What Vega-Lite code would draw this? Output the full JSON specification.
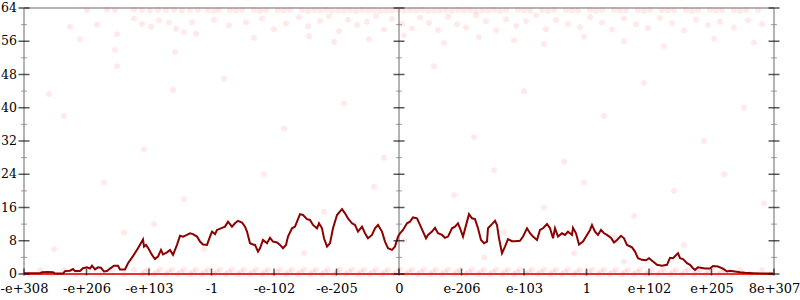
{
  "$schema": "https://vega.github.io/schema/vega-lite/v6.json",
  "width": 750,
  "height": 266,
  "autosize": "none",
  "padding": {"left": 24, "top": 8, "right": 26, "bottom": 26},
  "background": "white",
  "config": {
    "view": {"stroke": null},
    "font": "DejaVu Serif",
    "axis": {"ticks": false, "domain": false, "grid": false, "title": null, "labelFont": "DejaVu Serif", "labelColor": "#000", "labelOverlap": false, "labelFlush": false},
    "axisY": {"labels": false},
    "axisX": {"labelOverlap": false, "labelFontSize": 13, "labelPadding": 8}
  },
  "datasets": {
    "line": [
      {"x":0,"v":0.2},{"x":6,"v":0.2},{"x":16,"v":0.2},{"x":18,"v":0.4},{"x":24,"v":0.5},{"x":29,"v":0.4},{"x":31,"v":0.1},{"x":36,"v":0.1},{"x":39,"v":0.1},{"x":41,"v":0.7},{"x":46,"v":0.8},{"x":49,"v":1.2},{"x":51,"v":0.7},{"x":56,"v":0.7},{"x":59,"v":1.4},{"x":63,"v":1.6},{"x":66,"v":1.3},{"x":68,"v":2.0},{"x":71,"v":1.1},{"x":74,"v":1.6},{"x":77,"v":1.5},{"x":80,"v":0.6},{"x":83,"v":0.7},{"x":86,"v":1.3},{"x":90,"v":2.0},{"x":94,"v":2.0},{"x":96,"v":1.1},{"x":101,"v":1.1},{"x":104,"v":2.6},{"x":109,"v":4.3},{"x":114,"v":6.2},{"x":118,"v":7.9},{"x":119,"v":8.3},{"x":120,"v":6.6},{"x":122,"v":7.0},{"x":124,"v":6.3},{"x":128,"v":4.6},{"x":131,"v":3.6},{"x":134,"v":4.2},{"x":137,"v":5.8},{"x":139,"v":4.7},{"x":143,"v":5.2},{"x":146,"v":5.8},{"x":149,"v":4.6},{"x":153,"v":7.0},{"x":156,"v":9.2},{"x":159,"v":9.0},{"x":163,"v":9.4},{"x":166,"v":9.8},{"x":169,"v":9.6},{"x":173,"v":9.0},{"x":176,"v":7.8},{"x":179,"v":7.1},{"x":183,"v":7.0},{"x":186,"v":9.0},{"x":188,"v":10.2},{"x":191,"v":9.6},{"x":193,"v":10.6},{"x":198,"v":11.1},{"x":201,"v":11.4},{"x":204,"v":12.6},{"x":208,"v":11.4},{"x":211,"v":12.2},{"x":214,"v":12.8},{"x":218,"v":12.4},{"x":221,"v":11.4},{"x":223,"v":10.2},{"x":226,"v":7.4},{"x":229,"v":7.1},{"x":231,"v":7.0},{"x":234,"v":5.4},{"x":236,"v":6.2},{"x":239,"v":8.2},{"x":243,"v":7.4},{"x":246,"v":8.7},{"x":249,"v":7.8},{"x":253,"v":7.6},{"x":256,"v":7.0},{"x":259,"v":6.2},{"x":262,"v":7.0},{"x":264,"v":9.0},{"x":268,"v":11.0},{"x":271,"v":11.4},{"x":273,"v":12.6},{"x":276,"v":14.4},{"x":279,"v":14.2},{"x":283,"v":13.2},{"x":286,"v":13.0},{"x":289,"v":11.8},{"x":293,"v":11.0},{"x":295,"v":12.2},{"x":298,"v":11.0},{"x":300,"v":8.6},{"x":303,"v":6.6},{"x":306,"v":7.4},{"x":309,"v":11.0},{"x":313,"v":14.2},{"x":318,"v":15.6},{"x":321,"v":14.6},{"x":324,"v":13.4},{"x":328,"v":12.2},{"x":331,"v":11.8},{"x":334,"v":10.2},{"x":338,"v":11.4},{"x":341,"v":9.8},{"x":344,"v":8.6},{"x":348,"v":9.4},{"x":351,"v":11.0},{"x":354,"v":11.8},{"x":358,"v":10.2},{"x":361,"v":7.8},{"x":364,"v":6.2},{"x":368,"v":5.8},{"x":371,"v":6.6},{"x":374,"v":9.0},{"x":376,"v":9.8},{"x":379,"v":10.6},{"x":383,"v":12.2},{"x":386,"v":12.6},{"x":389,"v":13.6},{"x":393,"v":13.4},{"x":396,"v":11.8},{"x":399,"v":10.2},{"x":402,"v":8.6},{"x":404,"v":9.4},{"x":408,"v":10.2},{"x":411,"v":11.1},{"x":414,"v":9.8},{"x":418,"v":9.4},{"x":421,"v":8.7},{"x":424,"v":9.0},{"x":428,"v":11.0},{"x":431,"v":11.4},{"x":434,"v":12.2},{"x":436,"v":11.0},{"x":439,"v":9.0},{"x":443,"v":12.6},{"x":445,"v":14.4},{"x":448,"v":13.4},{"x":451,"v":13.2},{"x":454,"v":11.0},{"x":457,"v":8.2},{"x":460,"v":7.4},{"x":463,"v":7.8},{"x":464,"v":11.0},{"x":468,"v":12.0},{"x":471,"v":12.8},{"x":473,"v":11.8},{"x":475,"v":8.6},{"x":478,"v":5.0},{"x":481,"v":6.6},{"x":484,"v":8.4},{"x":488,"v":7.9},{"x":491,"v":7.9},{"x":496,"v":8.0},{"x":499,"v":9.0},{"x":503,"v":11.0},{"x":506,"v":9.8},{"x":509,"v":9.0},{"x":513,"v":8.2},{"x":516,"v":10.6},{"x":519,"v":11.0},{"x":523,"v":12.0},{"x":526,"v":11.0},{"x":529,"v":8.6},{"x":531,"v":11.0},{"x":534,"v":9.0},{"x":538,"v":9.8},{"x":541,"v":9.4},{"x":544,"v":10.2},{"x":548,"v":9.4},{"x":549,"v":11.1},{"x":552,"v":9.8},{"x":555,"v":7.1},{"x":559,"v":7.8},{"x":563,"v":9.4},{"x":566,"v":10.6},{"x":568,"v":11.8},{"x":571,"v":10.2},{"x":574,"v":9.4},{"x":577,"v":10.6},{"x":580,"v":9.8},{"x":583,"v":9.4},{"x":587,"v":8.7},{"x":590,"v":7.6},{"x":593,"v":8.2},{"x":597,"v":9.2},{"x":600,"v":8.6},{"x":603,"v":7.0},{"x":608,"v":6.4},{"x":611,"v":5.4},{"x":614,"v":3.8},{"x":618,"v":3.4},{"x":622,"v":3.3},{"x":625,"v":3.8},{"x":629,"v":3.0},{"x":633,"v":2.2},{"x":638,"v":2.0},{"x":643,"v":2.2},{"x":646,"v":3.9},{"x":649,"v":3.8},{"x":654,"v":5.0},{"x":656,"v":3.8},{"x":659,"v":3.6},{"x":663,"v":2.6},{"x":666,"v":2.2},{"x":669,"v":1.4},{"x":671,"v":1.0},{"x":674,"v":1.6},{"x":681,"v":1.3},{"x":686,"v":1.3},{"x":689,"v":1.9},{"x":694,"v":1.8},{"x":699,"v":1.3},{"x":703,"v":0.6},{"x":706,"v":0.8},{"x":711,"v":0.6},{"x":716,"v":0.4},{"x":721,"v":0.3},{"x":729,"v":0.2},{"x":738,"v":0.1},{"x":749,"v":0.1}
    ],
    "pts": [
      {"x":63,"v":63.5},{"x":73,"v":60},{"x":83,"v":63.6},{"x":91,"v":63.5},{"x":93,"v":57.7},{"x":91,"v":53.9},{"x":93,"v":50},{"x":25,"v":43.3},{"x":149,"v":44.3},{"x":151,"v":53.4},{"x":56,"v":56.5},{"x":46,"v":59.5},
      {"x":110,"v":63.6},{"x":118,"v":63.5},{"x":126,"v":63.4},{"x":134,"v":63.6},{"x":142,"v":63.5},{"x":150,"v":63.6},{"x":158,"v":63.4},{"x":166,"v":63.5},{"x":174,"v":63.6},
      {"x":110,"v":61.5},{"x":118,"v":60.2},{"x":127,"v":59.5},{"x":135,"v":61},{"x":145,"v":60.5},{"x":152,"v":59},{"x":160,"v":58.2},{"x":168,"v":60.6},{"x":172,"v":57.8},
      {"x":184,"v":63.5},{"x":195,"v":63.6},{"x":206,"v":63.4},{"x":218,"v":63.5},{"x":230,"v":63.6},{"x":242,"v":63.5},{"x":254,"v":63.4},{"x":266,"v":63.6},{"x":278,"v":63.5},{"x":290,"v":63.5},{"x":302,"v":63.6},{"x":314,"v":63.4},{"x":326,"v":63.5},{"x":338,"v":63.6},{"x":350,"v":63.5},{"x":362,"v":63.4},{"x":374,"v":63.6},{"x":386,"v":63.5},{"x":398,"v":63.6},{"x":410,"v":63.4},{"x":422,"v":63.5},{"x":434,"v":63.6},{"x":446,"v":63.5},{"x":458,"v":63.4},{"x":470,"v":63.6},{"x":482,"v":63.5},{"x":494,"v":63.6},{"x":506,"v":63.4},{"x":518,"v":63.5},{"x":530,"v":63.6},{"x":542,"v":63.5},{"x":554,"v":63.4},{"x":566,"v":63.6},{"x":578,"v":63.5},{"x":590,"v":63.6},{"x":602,"v":63.4},{"x":614,"v":63.5},{"x":626,"v":63.6},{"x":638,"v":63.5},{"x":650,"v":63.4},{"x":662,"v":63.6},{"x":674,"v":63.5},{"x":686,"v":63.6},{"x":698,"v":63.4},{"x":710,"v":63.5},{"x":722,"v":63.6},{"x":734,"v":63.5},
      {"x":190,"v":63.3},{"x":212,"v":63.4},{"x":236,"v":63.3},{"x":260,"v":63.4},{"x":284,"v":63.3},{"x":296,"v":63.4},{"x":308,"v":63.3},{"x":320,"v":63.4},{"x":332,"v":63.3},{"x":344,"v":63.4},{"x":356,"v":63.3},{"x":368,"v":63.4},{"x":380,"v":63.3},{"x":392,"v":63.4},{"x":404,"v":63.3},{"x":416,"v":63.4},{"x":428,"v":63.3},{"x":440,"v":63.4},{"x":452,"v":63.3},{"x":464,"v":63.4},{"x":476,"v":63.3},{"x":500,"v":63.4},{"x":524,"v":63.3},{"x":548,"v":63.4},{"x":572,"v":63.3},{"x":596,"v":63.4},{"x":620,"v":63.3},{"x":644,"v":63.4},{"x":668,"v":63.3},{"x":692,"v":63.4},{"x":716,"v":63.3},
      {"x":190,"v":61.2},{"x":205,"v":59.8},{"x":222,"v":60.6},{"x":238,"v":61.5},{"x":250,"v":58.9},{"x":262,"v":60.3},{"x":275,"v":61.8},{"x":284,"v":59.6},{"x":296,"v":60.9},{"x":305,"v":62},{"x":315,"v":58.4},{"x":324,"v":61.2},{"x":333,"v":59.9},{"x":343,"v":60.7},{"x":352,"v":62.1},{"x":360,"v":58.8},{"x":368,"v":61.4},{"x":378,"v":60.2},{"x":388,"v":59.1},{"x":396,"v":61.7},{"x":405,"v":60.4},{"x":414,"v":58.7},{"x":424,"v":61.9},{"x":433,"v":60.1},{"x":442,"v":59.3},{"x":452,"v":62.2},{"x":462,"v":60.8},{"x":472,"v":58.6},{"x":482,"v":61.3},{"x":492,"v":59.7},{"x":502,"v":60.9},{"x":512,"v":62.3},{"x":522,"v":58.9},{"x":532,"v":61.1},{"x":544,"v":60.2},{"x":556,"v":59.4},{"x":566,"v":61.8},{"x":578,"v":60.5},{"x":588,"v":58.8},{"x":600,"v":61.5},{"x":612,"v":60.1},{"x":624,"v":59.2},{"x":636,"v":61.6},{"x":648,"v":60.4},{"x":660,"v":58.6},{"x":672,"v":61.2},{"x":684,"v":59.9},{"x":696,"v":60.7},{"x":710,"v":59.3},{"x":724,"v":61},{"x":738,"v":60.1},
      {"x":230,"v":56.8},{"x":285,"v":57.2},{"x":310,"v":55.9},{"x":345,"v":56.5},{"x":380,"v":57.4},{"x":420,"v":55.6},{"x":455,"v":57},{"x":490,"v":56.2},{"x":520,"v":55.3},{"x":560,"v":57.1},{"x":600,"v":56},{"x":640,"v":54.8},{"x":690,"v":56.6},{"x":730,"v":55.7},
      {"x":40,"v":38},{"x":120,"v":30},{"x":200,"v":47},{"x":260,"v":35},{"x":320,"v":41},{"x":360,"v":28},{"x":410,"v":50},{"x":450,"v":33},{"x":500,"v":44},{"x":540,"v":27},{"x":580,"v":38},{"x":620,"v":46},{"x":680,"v":32},{"x":720,"v":40},{"x":80,"v":22},{"x":160,"v":18},{"x":240,"v":24},{"x":300,"v":15},{"x":350,"v":21},{"x":430,"v":19},{"x":470,"v":25},{"x":520,"v":16},{"x":560,"v":22},{"x":610,"v":14},{"x":650,"v":20},{"x":700,"v":24},{"x":740,"v":17},{"x":100,"v":10},{"x":180,"v":6},{"x":280,"v":5},{"x":380,"v":8},{"x":460,"v":4},{"x":550,"v":5},{"x":600,"v":3},{"x":660,"v":7},{"x":30,"v":6},{"x":130,"v":12},{"x":330,"v":12},{"x":480,"v":10},{"x":590,"v":9},
      {"x":4,"v":0},{"x":16,"v":1},{"x":28,"v":0},{"x":40,"v":1},{"x":52,"v":0},{"x":64,"v":1},{"x":76,"v":0},{"x":88,"v":1},{"x":100,"v":0},{"x":110,"v":1},{"x":118,"v":0},{"x":124,"v":1},{"x":130,"v":0},{"x":136,"v":1},{"x":142,"v":0},{"x":148,"v":1},{"x":154,"v":0},{"x":160,"v":1},{"x":166,"v":0},{"x":172,"v":1},{"x":178,"v":0},{"x":184,"v":1},{"x":190,"v":0},{"x":196,"v":1},{"x":202,"v":0},{"x":208,"v":1},{"x":214,"v":0},{"x":220,"v":1},{"x":226,"v":0},{"x":232,"v":1},{"x":238,"v":0},{"x":244,"v":1},{"x":250,"v":0},{"x":256,"v":1},{"x":262,"v":0},{"x":268,"v":1},{"x":274,"v":0},{"x":280,"v":1},{"x":286,"v":0},{"x":292,"v":1},{"x":298,"v":0},{"x":304,"v":1},{"x":310,"v":0},{"x":316,"v":1},{"x":322,"v":0},{"x":328,"v":1},{"x":334,"v":0},{"x":340,"v":1},{"x":346,"v":0},{"x":352,"v":1},{"x":358,"v":0},{"x":364,"v":1},{"x":370,"v":0},{"x":376,"v":1},{"x":382,"v":0},{"x":388,"v":1},{"x":394,"v":0},{"x":400,"v":1},{"x":406,"v":0},{"x":412,"v":1},{"x":418,"v":0},{"x":424,"v":1},{"x":430,"v":0},{"x":436,"v":1},{"x":442,"v":0},{"x":448,"v":1},{"x":454,"v":0},{"x":460,"v":1},{"x":466,"v":0},{"x":472,"v":1},{"x":478,"v":0},{"x":484,"v":1},{"x":490,"v":0},{"x":496,"v":1},{"x":502,"v":0},{"x":508,"v":1},{"x":514,"v":0},{"x":520,"v":1},{"x":526,"v":0},{"x":532,"v":1},{"x":538,"v":0},{"x":544,"v":1},{"x":550,"v":0},{"x":556,"v":1},{"x":562,"v":0},{"x":568,"v":1},{"x":574,"v":0},{"x":580,"v":1},{"x":586,"v":0},{"x":592,"v":1},{"x":598,"v":0},{"x":604,"v":1},{"x":610,"v":0},{"x":616,"v":1},{"x":622,"v":0},{"x":628,"v":1},{"x":634,"v":0},{"x":640,"v":1},{"x":646,"v":0},{"x":652,"v":1},{"x":658,"v":0},{"x":664,"v":1},{"x":670,"v":0},{"x":676,"v":1},{"x":682,"v":0},{"x":688,"v":1},{"x":694,"v":0},{"x":700,"v":1},{"x":708,"v":0},{"x":716,"v":1},{"x":726,"v":0},{"x":738,"v":1},{"x":748,"v":0},
      {"x":121,"v":0.5},{"x":133,"v":0.5},{"x":145,"v":0.5},{"x":157,"v":0.5},{"x":169,"v":0.5},{"x":181,"v":0.5},{"x":193,"v":0.5},{"x":205,"v":0.5},{"x":217,"v":0.5},{"x":229,"v":0.5},{"x":241,"v":0.5},{"x":253,"v":0.5},{"x":265,"v":0.5},{"x":277,"v":0.5},{"x":289,"v":0.5},{"x":301,"v":0.5},{"x":313,"v":0.5},{"x":325,"v":0.5},{"x":337,"v":0.5},{"x":349,"v":0.5},{"x":361,"v":0.5},{"x":373,"v":0.5},{"x":385,"v":0.5},{"x":397,"v":0.5},{"x":409,"v":0.5},{"x":421,"v":0.5},{"x":433,"v":0.5},{"x":445,"v":0.5},{"x":457,"v":0.5},{"x":469,"v":0.5},{"x":481,"v":0.5},{"x":493,"v":0.5},{"x":505,"v":0.5},{"x":517,"v":0.5},{"x":529,"v":0.5},{"x":541,"v":0.5},{"x":553,"v":0.5},{"x":565,"v":0.5},{"x":577,"v":0.5},{"x":589,"v":0.5},{"x":601,"v":0.5},{"x":613,"v":0.5},{"x":625,"v":0.5},{"x":637,"v":0.5},{"x":649,"v":0.5},{"x":661,"v":0.5},{"x":673,"v":0.5},{"x":685,"v":0.5},{"x":697,"v":0.5}
    ],
    "ymaj": [{"t":0},{"t":8},{"t":16},{"t":24},{"t":32},{"t":40},{"t":48},{"t":56},{"t":64}],
    "ymin": [{"t":4},{"t":12},{"t":20},{"t":28},{"t":36},{"t":44},{"t":52},{"t":60}],
    "xt": [{"t":0},{"t":62.5},{"t":125},{"t":187.5},{"t":250},{"t":312.5},{"t":375},{"t":437.5},{"t":500},{"t":562.5},{"t":625},{"t":687.5},{"t":750}],
    "one": [{"k":1}]
  },
  "layer": [
    {
      "data": {"name": "line"},
      "mark": {"type": "line", "color": "#8b0000", "strokeWidth": 2, "opacity": 0},
      "encoding": {
        "x": {"field": "x", "type": "quantitative", "scale": {"domain": [0, 750], "nice": false, "zero": false},
              "axis": {"values": [0,62.5,125,187.5,250,312.5,375,437.5,500,562.5,625,687.5,750], "labelExpr": "['-e+308','-e+206','-e+103','-1','-e-102','-e-205','0','e-206','e-103','1','e+102','e+205','8e+307'][round(datum.value/62.5)]", "labelOverlap": false, "title": null}},
        "y": {"field": "v", "type": "quantitative", "scale": {"domain": [0, 64], "nice": false}, "axis": {"labels": false, "title": null}}
      }
    },
    {"data": {"name": "one"}, "mark": {"type": "rule", "color": "#b4b4b4", "strokeWidth": 2}, "encoding": {"y": {"datum": 64}}},
    {"data": {"name": "one"}, "mark": {"type": "rule", "color": "#b4b4b4", "strokeWidth": 2}, "encoding": {"x": {"datum": 0}}},
    {"data": {"name": "one"}, "mark": {"type": "rule", "color": "#b4b4b4", "strokeWidth": 2}, "encoding": {"x": {"datum": 375}}},
    {"data": {"name": "one"}, "mark": {"type": "rule", "color": "#b4b4b4", "strokeWidth": 2}, "encoding": {"x": {"datum": 750}}},
    {
      "data": {"name": "pts"},
      "mark": {"type": "point", "color": "#ff2a2a", "filled": true, "size": 34, "opacity": 0.1},
      "encoding": {"x": {"field": "x", "type": "quantitative"}, "y": {"field": "v", "type": "quantitative"}}
    },
    {"data": {"name": "one"}, "mark": {"type": "rule", "color": "#e8302f", "strokeWidth": 2}, "encoding": {"y": {"datum": 0}}},
    {
      "data": {"name": "line"},
      "mark": {"type": "line", "color": "#8b0000", "strokeWidth": 2},
      "encoding": {"x": {"field": "x", "type": "quantitative"}, "y": {"field": "v", "type": "quantitative"}}
    },
    {"data": {"name": "ymaj"}, "mark": {"type": "tick", "orient": "horizontal", "color": "#111", "size": 11, "thickness": 1.5},
     "encoding": {"x": {"datum": 0}, "y": {"field": "t", "type": "quantitative"}}},
    {"data": {"name": "ymaj"}, "mark": {"type": "tick", "orient": "horizontal", "color": "#111", "size": 11, "thickness": 1.5},
     "encoding": {"x": {"datum": 375}, "y": {"field": "t", "type": "quantitative"}}},
    {"data": {"name": "ymaj"}, "mark": {"type": "tick", "orient": "horizontal", "color": "#111", "size": 11, "thickness": 1.5},
     "encoding": {"x": {"datum": 750}, "y": {"field": "t", "type": "quantitative"}}},
    {"data": {"name": "ymaj"}, "mark": {"type": "text", "color": "#000", "font": "DejaVu Serif", "fontSize": 12.5, "align": "right", "baseline": "middle", "dx": -7},
     "encoding": {"x": {"datum": 0}, "y": {"field": "t", "type": "quantitative"}, "text": {"field": "t", "type": "quantitative"}}},
    {"data": {"name": "ymin"}, "mark": {"type": "tick", "orient": "horizontal", "color": "#777", "size": 6, "thickness": 1},
     "encoding": {"x": {"datum": 0}, "y": {"field": "t", "type": "quantitative"}}},
    {"data": {"name": "ymin"}, "mark": {"type": "tick", "orient": "horizontal", "color": "#777", "size": 6, "thickness": 1},
     "encoding": {"x": {"datum": 375}, "y": {"field": "t", "type": "quantitative"}}},
    {"data": {"name": "ymin"}, "mark": {"type": "tick", "orient": "horizontal", "color": "#777", "size": 6, "thickness": 1},
     "encoding": {"x": {"datum": 750}, "y": {"field": "t", "type": "quantitative"}}},
    {"data": {"name": "xt"}, "mark": {"type": "tick", "orient": "vertical", "color": "#111", "size": 7, "thickness": 1.5, "yOffset": -2},
     "encoding": {"x": {"field": "t", "type": "quantitative"}, "y": {"datum": 0}}}
  ]
}
